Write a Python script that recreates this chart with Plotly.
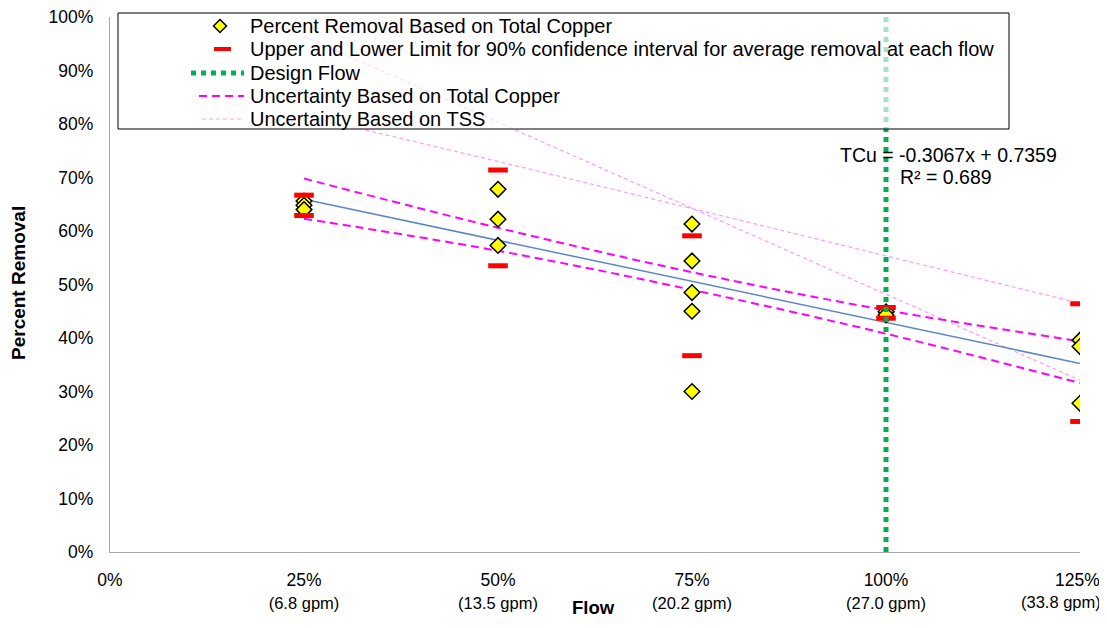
import plotly.graph_objects as go

# ---------------- data ----------------
flow_pct = [25, 50, 75, 100, 125]
flow_gpm = ["6.8", "13.5", "20.2", "27.0", "33.8"]

# individual percent removals (total copper)
obs_flow = [25, 25, 25, 50, 50, 50, 75, 75, 75, 75, 75, 100, 100, 125, 125, 125]
obs_removal = [65.6, 64.8, 64.0, 67.8, 62.2, 57.3, 61.3, 54.4, 48.5, 45.0, 30.0,
               44.9, 44.3, 39.6, 38.4, 27.8]

# 90% confidence limits for average removal at each flow
ci_upper = [66.7, 71.4, 59.1, 45.7, 46.4]
ci_lower = [62.9, 53.5, 36.7, 43.7, 24.4]

# uncertainty bands
tcu_band_upper = [69.8, 60.6, 52.3, 45.2, 39.4]
tcu_band_lower = [62.3, 56.3, 49.0, 40.8, 31.6]
tss_band_a = [81.6, 73.0, 64.2, 55.4, 46.5]
tss_band_b = [96.4, 80.3, 64.2, 48.2, 32.1]

# linear trend (as printed on chart)
trend_slope = -0.3067
trend_intercept = 0.7359
r_squared = 0.689
trend_x = [25, 125]

design_flow = 100
y_ticks = list(range(0, 101, 10))

legend_labels = [
    "Percent Removal Based on Total Copper",
    "Upper and Lower Limit for 90% confidence interval for average removal at each flow",
    "Design Flow",
    "Uncertainty Based on Total Copper",
    "Uncertainty Based on TSS",
]

FONT = "Liberation Sans, Arial, sans-serif"
C_TSS = "#FF99FF"
C_TCU = "#FF00FF"
C_RED = "#FF0000"
C_GREEN = "#00B050"
C_YEL = "#FFFF00"

# page is offset by the 8px body margin; plot area in page pixels
PX0, PX1, PY0, PY1 = 110, 1080, 17, 552


def px(x):
    return (x - PX0) / (PX1 - PX0)


def py(y):
    return (PY1 - y) / (PY1 - PY0)


fig = go.Figure()

fig.add_trace(go.Scatter(
    x=flow_pct + [None] + flow_pct, y=tss_band_a + [None] + tss_band_b,
    mode="lines", name=legend_labels[4],
    line=dict(color=C_TSS, width=1.2, dash="4px,3px"), hoverinfo="skip"))

fig.add_trace(go.Scatter(
    x=flow_pct + [None] + flow_pct, y=tcu_band_upper + [None] + tcu_band_lower,
    mode="lines", name=legend_labels[3],
    line=dict(color=C_TCU, width=2, dash="8px,5px", shape="spline"),
    hoverinfo="skip"))

fig.add_trace(go.Scatter(
    x=trend_x, y=[(trend_slope * x / 100 + trend_intercept) * 100 for x in trend_x],
    mode="lines", name="Linear trend",
    line=dict(color="#5B87C5", width=1.5)))

fig.add_trace(go.Scatter(
    x=obs_flow, y=obs_removal, mode="markers", name=legend_labels[0],
    marker=dict(symbol="diamond", size=12, color=C_YEL,
                line=dict(color="#000000", width=1.5))))

fig.add_trace(go.Scatter(
    x=flow_pct + flow_pct, y=ci_upper + ci_lower, mode="markers",
    name=legend_labels[1],
    marker=dict(symbol="line-ew", size=14, color=C_RED,
                line=dict(color=C_RED, width=5))))

fig.add_trace(go.Scatter(
    x=[design_flow, design_flow], y=[0, 100], mode="lines",
    name=legend_labels[2],
    line=dict(color=C_GREEN, width=5, dash="5px,5px")))

# ----- legend box, drawn by hand to match the reference spacing -----
rows = [26, 49, 73, 96, 119]
shapes = [dict(type="rect", xref="paper", yref="paper",
               x0=px(118), x1=px(1009), y0=py(129), y1=py(13),
               line=dict(color="#000000", width=1),
               fillcolor="rgba(255,255,255,0.65)", layer="above")]
cx, cy, h = 220, rows[0], 6.5
shapes.append(dict(type="path", xref="paper", yref="paper", layer="above",
                   path=(f"M {px(cx)},{py(cy - h)} L {px(cx + h)},{py(cy)} "
                         f"L {px(cx)},{py(cy + h)} L {px(cx - h)},{py(cy)} Z"),
                   fillcolor=C_YEL, line=dict(color="#000000", width=1.5)))
shapes.append(dict(type="line", xref="paper", yref="paper", layer="above",
                   x0=px(214), x1=px(231), y0=py(rows[1]), y1=py(rows[1]),
                   line=dict(color=C_RED, width=4)))
shapes.append(dict(type="line", xref="paper", yref="paper", layer="above",
                   x0=px(191), x1=px(244), y0=py(rows[2]), y1=py(rows[2]),
                   line=dict(color=C_GREEN, width=5, dash="5px,5px")))
shapes.append(dict(type="line", xref="paper", yref="paper", layer="above",
                   x0=px(199), x1=px(244), y0=py(rows[3]), y1=py(rows[3]),
                   line=dict(color=C_TCU, width=2, dash="8px,5px")))
shapes.append(dict(type="line", xref="paper", yref="paper", layer="above",
                   x0=px(202), x1=px(244), y0=py(rows[4]), y1=py(rows[4]),
                   line=dict(color=C_TSS, width=1.2, dash="4px,3px")))

annotations = []
for lab, r in zip(legend_labels, rows):
    annotations.append(dict(x=px(248), y=py(r), xref="paper", yref="paper",
                            xanchor="left", yanchor="middle", text=lab,
                            showarrow=False, font=dict(size=20)))

annotations += [
    dict(x=px(948), y=py(155), xref="paper", yref="paper",
         xanchor="center", yanchor="middle",
         text=f"TCu = {trend_slope}x + {trend_intercept}",
         showarrow=False, font=dict(size=19.5)),
    dict(x=px(946), y=py(177), xref="paper", yref="paper",
         xanchor="center", yanchor="middle",
         text=f"R² = {r_squared}", showarrow=False, font=dict(size=19.5)),
    dict(x=px(18), y=py(283), xref="paper", yref="paper",
         xanchor="center", yanchor="middle",
         text="<b>Percent Removal</b>", textangle=-90, showarrow=False,
         font=dict(size=19)),
    dict(x=px(593), y=py(607), xref="paper", yref="paper",
         xanchor="center", yanchor="middle",
         text="<b>Flow</b>", showarrow=False, font=dict(size=18.5)),
    # last category label is pulled inside the chart edge, as in the reference
    dict(x=px(1102), y=py(580), xref="paper", yref="paper",
         xanchor="right", yanchor="middle",
         text=f"{flow_pct[-1]}%", showarrow=False, font=dict(size=17.5)),
    dict(x=px(1103), y=py(602), xref="paper", yref="paper",
         xanchor="right", yanchor="middle",
         text=f"({flow_gpm[-1]} gpm)", showarrow=False, font=dict(size=16.5)),
]

ticktext = ["0%"] + [f"{p}%<br><span style='font-size:16.5px'>({g} gpm)</span>"
                     for p, g in zip(flow_pct[:-1], flow_gpm[:-1])] + [""]

fig.update_layout(
    width=1099, height=612,
    margin=dict(l=102, r=27, t=9, b=68),
    paper_bgcolor="white", plot_bgcolor="white",
    font=dict(family=FONT, color="#000000", size=17),
    showlegend=False,
    xaxis=dict(range=[0, 125], tickvals=[0] + flow_pct, ticktext=ticktext,
               showgrid=False, zeroline=False, showline=True,
               linecolor="#A6A6A6", linewidth=1.3,
               ticks="outside", ticklen=12, tickcolor="rgba(0,0,0,0)",
               tickfont=dict(size=17.5), automargin=False,
               ticklabeloverflow="allow"),
    yaxis=dict(range=[0, 100], tickvals=y_ticks,
               ticktext=[f"{v}%" for v in y_ticks],
               showgrid=False, zeroline=False, showline=True,
               linecolor="#A6A6A6", linewidth=1.3,
               ticks="outside", ticklen=12, tickcolor="rgba(0,0,0,0)",
               tickfont=dict(size=17.5), automargin=False,
               ticklabeloverflow="allow"),
    shapes=shapes,
    annotations=annotations,
)

fig.write_html("out.html")
